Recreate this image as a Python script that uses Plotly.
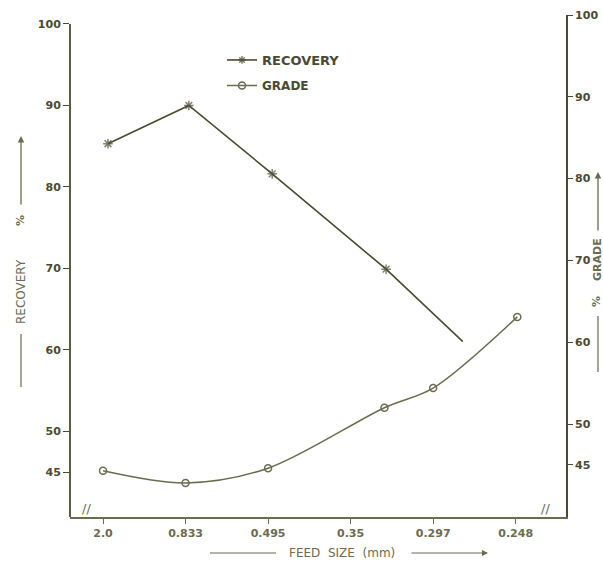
import plotly.graph_objects as go

# ---- data ----
feed_size_labels = ["2.0", "0.833", "0.495", "0.35", "0.297", "0.248"]
feed_size_pos = [0, 1, 2, 3, 4, 5]

# recovery read on the left (% RECOVERY) axis
recovery_x = [0.06, 1.04, 2.05, 3.43, 4.36]
recovery_y = [85.3, 90.0, 81.6, 69.9, 61.0]
recovery_marker_size = [8, 8, 8, 8, 0]

# grade read on the right (% GRADE) axis
grade_x = [0.0, 1.0, 2.0, 3.41, 4.0, 5.02]
grade_y = [44.3, 42.8, 44.6, 52.0, 54.4, 63.1]

left_ticks = [45, 50, 60, 70, 80, 90, 100]
right_ticks = [45, 50, 60, 70, 80, 90, 100]

INK = "#4a4a30"
INK2 = "#6b6b50"
FONT = "DejaVu Sans"

W, H = 603, 568
L, R, T, B = 70, 37, 15, 51
PW, PH = W - L - R, H - T - B


def px(xp):
    return (xp - L) / PW


def py(yp):
    return (H - B - yp) / PH


fig = go.Figure()

fig.add_trace(go.Scatter(
    x=recovery_x, y=recovery_y, mode="lines+markers", name="RECOVERY",
    line=dict(color=INK, width=1.6),
    marker=dict(symbol="asterisk-open", size=recovery_marker_size,
                line=dict(color=INK, width=1.5), color=INK),
    legend="legend",
))
fig.add_trace(go.Scatter(
    x=grade_x, y=grade_y, mode="lines+markers", name="GRADE",
    line=dict(color=INK2, width=1.5, shape="spline", smoothing=0.9),
    marker=dict(symbol="circle-open", size=7, line=dict(color=INK2, width=1.5)),
    yaxis="y2", legend="legend2",
))

fig.update_layout(
    width=W, height=H,
    margin=dict(l=L, r=R, t=T, b=B, autoexpand=False),
    paper_bgcolor="white", plot_bgcolor="white",
    font=dict(family=FONT, color=INK, size=11),
    xaxis=dict(
        range=[-0.4, 5.61], tickmode="array", tickvals=feed_size_pos,
        ticktext=feed_size_labels, showgrid=False, zeroline=False,
        showline=True, linecolor=INK2, linewidth=1.5,
        ticks="outside", ticklen=5, tickwidth=1.2, tickcolor=INK2,
        tickfont=dict(family=FONT, size=11, color=INK2, weight="bold"),
        automargin=False,
    ),
    yaxis=dict(
        range=[39.48, 101.1], tickmode="array", tickvals=left_ticks,
        showgrid=False, zeroline=False, showline=False,
        ticks="outside", ticklen=6, tickwidth=1.2, tickcolor=INK,
        tickfont=dict(family=FONT, size=11, color=INK, weight="bold"),
        automargin=False,
    ),
    yaxis2=dict(
        range=[38.64, 100.0], overlaying="y", side="right",
        tickmode="array", tickvals=right_ticks,
        showgrid=False, zeroline=False, showline=True, linecolor=INK, linewidth=1.8,
        ticks="outside", ticklen=5, tickwidth=1.2, tickcolor=INK,
        tickfont=dict(family=FONT, size=11, color=INK, weight="bold"),
        automargin=False,
    ),
    legend=dict(x=px(222), y=py(45), xanchor="left", yanchor="top",
                bgcolor="rgba(0,0,0,0)", itemwidth=30,
                font=dict(family=FONT, size=13, color=INK, weight="bold")),
    legend2=dict(x=px(222), y=py(71), xanchor="left", yanchor="top",
                 bgcolor="rgba(0,0,0,0)", itemwidth=30,
                 font=dict(family=FONT, size=12, color=INK, weight="bold")),
    showlegend=True,
)

# left axis line (from bottom up to the 100 tick)
fig.add_shape(type="line", xref="paper", yref="y", x0=0, x1=0, y0=39.48, y1=100,
              line=dict(color=INK, width=1.8))

# axis break marks on the x axis
for xb in [-0.2, 5.36]:
    fig.add_annotation(x=xb, y=0, xref="x", yref="paper", text="//", showarrow=False,
                       font=dict(family=FONT, size=13, color=INK2), bgcolor="white",
                       borderpad=0)

title_font = dict(family=FONT, size=12, color=INK2)
title_font_b = dict(family=FONT, size=11, color=INK2, weight="bold")
LINEC = dict(color=INK2, width=1.2)
C = dict(xanchor="center", yanchor="middle", showarrow=False, xref="paper", yref="paper")

# ---- left title: ---- RECOVERY  %  ---->
fig.add_shape(type="line", xref="paper", yref="paper", x0=px(21), x1=px(21),
              y0=py(387), y1=py(334), line=LINEC)
fig.add_annotation(x=px(21), y=py(292), text="RECOVERY", textangle=-90, font=title_font, **C)
fig.add_annotation(x=px(21), y=py(221), text="%", textangle=-90, font=title_font_b, **C)
fig.add_annotation(x=px(21), y=py(136), xref="paper", yref="paper", text="",
                   showarrow=True, axref="pixel", ayref="pixel", ax=0, ay=70,
                   arrowhead=2, arrowsize=1, arrowwidth=1.3, arrowcolor=INK2)

# ---- right title: ---- %  GRADE ---->
fig.add_shape(type="line", xref="paper", yref="paper", x0=px(598), x1=px(598),
              y0=py(372), y1=py(316), line=LINEC)
fig.add_annotation(x=px(597), y=py(302), text="%", textangle=-90, font=title_font_b, **C)
fig.add_annotation(x=px(597), y=py(260), text="GRADE", textangle=-90, font=title_font_b, **C)
fig.add_annotation(x=px(598), y=py(172), xref="paper", yref="paper", text="",
                   showarrow=True, axref="pixel", ayref="pixel", ax=0, ay=60,
                   arrowhead=2, arrowsize=1, arrowwidth=1.3, arrowcolor=INK2)

# ---- bottom title: ------ FEED SIZE (mm) ------>
fig.add_shape(type="line", xref="paper", yref="paper", x0=px(210), x1=px(276),
              y0=py(553), y1=py(553), line=dict(color=INK2, width=1.2))
fig.add_annotation(x=px(342), y=py(553), text="FEED  SIZE  (mm)", font=title_font, **C)
fig.add_annotation(x=px(488), y=py(553), xref="paper", yref="paper", text="",
                   showarrow=True, axref="pixel", ayref="pixel", ax=-78, ay=0,
                   arrowhead=2, arrowsize=1, arrowwidth=1.2, arrowcolor=INK2)

fig.write_html("out.html", post_script="document.body.style.margin='0';",
               config={"displayModeBar": False})
